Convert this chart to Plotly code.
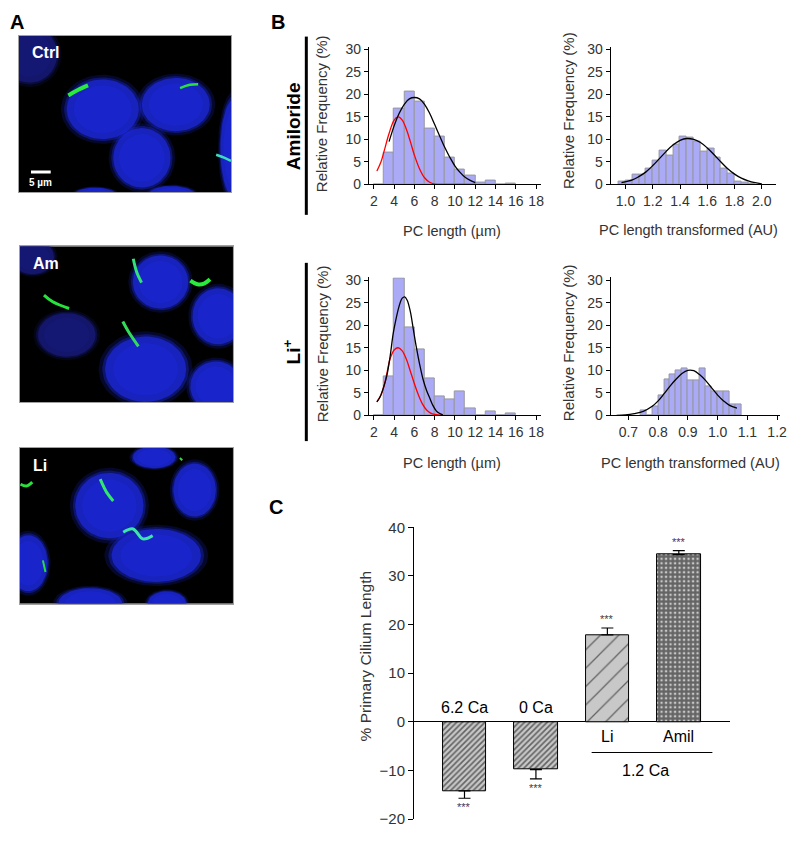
import numpy as np
import plotly.graph_objects as go

# ---------------- data ----------------
# panel B, PC length histograms (1 um bins, centre values)
len_bins = [2.5, 3.5, 4.5, 5.5, 6.5, 7.5, 8.5, 9.5, 10.5, 11.5, 12.5, 13.5, 14.5, 15.5]
amil_len_freq = [0, 7.0, 16.9, 20.6, 18.5, 12.5, 10.7, 5.9, 3.2, 1.9, 0.5, 0.9, 0, 0.3]
li_len_freq = [0, 8.6, 30.4, 19.5, 14.6, 8.3, 4.1, 3.6, 5.2, 1.6, 0, 0.9, 0, 0.5]

# fitted curves
amil_fit_x = [3.5, 4.0, 4.5, 5.0, 5.5, 6.0, 6.5, 7.0, 7.5, 8.0, 8.5, 9.0, 9.5, 10.0, 10.5, 11.0, 11.5, 12.0]
amil_fit_y = [9.5, 13.0, 15.8, 17.8, 19.0, 19.3, 19.0, 17.8, 15.8, 13.3, 10.7, 8.2, 6.0, 4.1, 2.7, 1.6, 0.9, 0.4]
ctrl_fit_x = [2.3, 2.7, 3.0, 3.5, 4.0, 4.4, 4.8, 5.2, 5.6, 6.0, 6.5, 7.0, 7.5, 8.0, 9.0, 10.0, 11.0, 12.0]
ctrl_fit_y = [3.0, 5.0, 7.3, 11.3, 14.3, 15.0, 14.3, 12.3, 9.5, 6.5, 3.5, 1.5, 0.5, 0.1, 0, 0, 0, 0]
li_fit_x = [2.3, 2.6, 3.0, 3.3, 3.6, 3.9, 4.2, 4.5, 4.8, 5.05, 5.3, 5.6, 5.9, 6.2, 6.5, 6.85, 7.2, 7.5, 7.8, 8.15, 8.5, 8.8]
li_fit_y = [3.0, 4.0, 6.5, 9.0, 13.0, 18.0, 21.5, 24.3, 26.0, 26.3, 25.5, 23.0, 19.0, 15.0, 11.5, 8.0, 5.5, 3.9, 2.3, 1.0, 0.4, 0.1]
ctrl2_fit_x = [2.3, 2.7, 3.0, 3.3, 3.6, 4.0, 4.4, 4.8, 5.2, 5.6, 6.0, 6.4, 6.8, 7.2, 7.6, 8.0, 8.5, 8.8]
ctrl2_fit_y = [3.0, 4.5, 6.5, 9.5, 12.5, 14.5, 15.0, 14.3, 12.5, 9.8, 7.0, 4.5, 2.5, 1.2, 0.5, 0.2, 0.05, 0]

# panel B, transformed length histograms
amil_tr_bins = [0.975, 1.025, 1.075, 1.125, 1.175, 1.225, 1.275, 1.325, 1.375, 1.425, 1.475,
                1.525, 1.575, 1.625, 1.675, 1.725, 1.775, 1.825, 1.875, 1.925]
amil_tr_freq = [0.6, 0.8, 2.3, 2.3, 3.5, 5.4, 7.5, 6.4, 8.9, 10.6, 10.5,
                9.5, 7.3, 8.0, 6.0, 3.5, 2.5, 0.7, 0.5, 0.2]
amil_tr_fit_x = [0.97, 1.05, 1.1, 1.15, 1.2, 1.25, 1.3, 1.35, 1.4, 1.45, 1.5, 1.55, 1.6, 1.65,
                 1.7, 1.75, 1.8, 1.85, 1.9, 1.95, 2.0]
amil_tr_fit_y = [0.4, 1.0, 1.8, 2.8, 4.2, 5.8, 7.4, 8.8, 9.8, 10.2, 10.0, 9.3, 8.1, 6.6,
                 5.0, 3.5, 2.3, 1.4, 0.8, 0.4, 0.15]
li_tr_bins = [0.75, 0.77, 0.79, 0.81, 0.83, 0.85, 0.87, 0.89, 0.91, 0.93, 0.95,
              0.97, 0.99, 1.01, 1.03, 1.05, 1.07]
li_tr_freq = [1.0, 0, 2.0, 4.4, 7.9, 9.1, 9.9, 10.4, 7.8, 7.8, 10.4,
              6.4, 5.3, 5.3, 5.2, 2.4, 2.4]
li_tr_fit_x = [0.66, 0.69, 0.72, 0.75, 0.78, 0.80, 0.82, 0.84, 0.86, 0.88, 0.90, 0.92, 0.94,
               0.96, 0.98, 1.00, 1.02, 1.04, 1.065]
li_tr_fit_y = [0, 0.1, 0.4, 0.9, 2.0, 3.2, 4.8, 6.5, 8.0, 9.3, 10.0, 9.9, 9.0,
               7.7, 6.1, 4.5, 3.2, 2.2, 1.6]

# panel C
groups = ["6.2 Ca", "0 Ca", "Li", "Amil"]
pc_change = [-14.2, -9.8, 17.9, 34.4]
pc_err = [1.5, 1.9, 1.4, 0.8]

# panel A, nuclei (cx, cy, rx, ry in image fractions) and cilia traces
BRIGHT = "rgb(30,42,232)"
DIM = "rgb(24,28,130)"
nuclei = {
    "Ctrl": [(0.05, 0.12, 0.13, 0.18, DIM), (0.395, 0.47, 0.17, 0.19, BRIGHT),
             (0.74, 0.44, 0.16, 0.17, BRIGHT), (0.58, 0.78, 0.135, 0.19, BRIGHT),
             (1.02, 0.72, 0.07, 0.32, BRIGHT), (0.36, 1.02, 0.10, 0.05, BRIGHT),
             (0.72, 1.02, 0.11, 0.06, BRIGHT)],
    "Am": [(0.06, 0.07, 0.10, 0.11, DIM), (0.66, 0.23, 0.13, 0.17, BRIGHT),
           (0.93, 0.45, 0.12, 0.18, BRIGHT), (0.22, 0.57, 0.135, 0.14, DIM),
           (0.59, 0.79, 0.19, 0.21, BRIGHT), (0.92, 0.90, 0.12, 0.16, BRIGHT)],
    "Li": [(0.63, 0.06, 0.10, 0.07, BRIGHT), (0.42, 0.37, 0.16, 0.21, BRIGHT),
           (0.82, 0.27, 0.10, 0.17, BRIGHT), (0.64, 0.69, 0.21, 0.17, BRIGHT),
           (0.04, 0.74, 0.09, 0.18, BRIGHT), (0.33, 1.00, 0.15, 0.10, BRIGHT),
           (0.69, 1.00, 0.09, 0.08, BRIGHT)],
}
cilia = {
    "Ctrl": [([0.233, 0.28, 0.326], [0.382, 0.346, 0.318], "rgb(40,235,60)", 4),
             ([0.76, 0.806, 0.845], [0.335, 0.314, 0.31], "rgb(40,225,60)", 2.5),
             ([0.93, 0.97, 1.0], [0.76, 0.78, 0.80], "rgb(60,220,190)", 2.5)],
    "Am": [([0.532, 0.548, 0.571], [0.081, 0.166, 0.234], "rgb(50,225,120)", 3),
           ([0.80, 0.833, 0.864, 0.892], [0.221, 0.244, 0.24, 0.212], "rgb(40,235,60)", 4),
           ([0.113, 0.154, 0.231], [0.314, 0.357, 0.40], "rgb(40,225,60)", 3),
           ([0.483, 0.509, 0.556], [0.484, 0.548, 0.643], "rgb(50,220,90)", 3)],
    "Li": [([0.377, 0.408, 0.438], [0.20, 0.287, 0.34], "rgb(50,230,110)", 3),
           ([0.485, 0.531, 0.577, 0.623], [0.541, 0.52, 0.584, 0.563], "rgb(60,230,170)", 3),
           ([0.003, 0.031, 0.058], [0.233, 0.244, 0.219], "rgb(40,225,60)", 3),
           ([0.751, 0.762], [0.064, 0.079], "rgb(40,225,60)", 2),
           ([0.108, 0.12], [0.722, 0.796], "rgb(40,220,60)", 2)],
}

# ---------------- layout helpers ----------------
# the page puts white space round the figure (8 px at the left/top and more
# below), so the figure is drawn a little smaller; positions are in picture pixels
W, H = 787, 827
OFF = 8
FONT = "Liberation Sans, Arial, sans-serif"
TXT = "#333333"


def px(x):
    return (x - OFF) / W


def py(y):
    return 1 - (y - OFF) / H


def clamp(v):
    return min(1.0, max(0.0, v))


def xdom(a, b):
    return [clamp(px(a)), clamp(px(b))]


def ydom(top, bottom):
    return [clamp(py(bottom)), clamp(py(top))]


def ax(k):
    s = "" if k == 1 else str(k)
    return "x" + s, "y" + s, "xaxis" + s, "yaxis" + s


def label(text, x, y, size, color=TXT, angle=0):
    return dict(text=text, x=px(x), y=py(y), xref="paper", yref="paper", xanchor="center",
                yanchor="middle", textangle=angle, showarrow=False,
                font=dict(family=FONT, size=size, color=color))


fig = go.Figure()
ann = []
shapes = []

# ---------------- panel A ----------------
img_boxes = {"Ctrl": (1, 19, 233, 27, 187), "Am": (2, 20, 235, 242, 401), "Li": (3, 20, 235, 448, 607)}
t = np.linspace(0, 2 * np.pi, 60)
for name, (k, x0, x1, y0, y1) in img_boxes.items():
    xa, ya, xk, yk = ax(k)
    shapes.append(dict(type="rect", xref=xa, yref=ya, x0=0, x1=1, y0=0, y1=1, layer="below",
                       fillcolor="black", line=dict(width=0)))
    for cx, cy, rx, ry, col in nuclei[name]:
        for scale, op in [(1.16, 0.18), (1.07, 0.35), (1.0, 0.65), (0.8, 0.35)]:
            fig.add_trace(go.Scatter(
                x=cx + rx * scale * np.cos(t), y=cy + ry * scale * np.sin(t),
                fill="toself", fillcolor=col, opacity=op, mode="lines",
                line=dict(width=0), hoverinfo="skip", showlegend=False, xaxis=xa, yaxis=ya))
    for cxs, cys, col, w in cilia[name]:
        fig.add_trace(go.Scatter(x=cxs, y=cys, mode="lines", line=dict(color=col, width=w, shape="spline"),
                                 hoverinfo="skip", showlegend=False, xaxis=xa, yaxis=ya))
    fig.layout[xk] = dict(domain=xdom(x0, x1), range=[0, 1], showticklabels=False,
                          ticks="", showgrid=False, zeroline=False, showline=True,
                          linecolor="#a0a0a0", mirror=True, anchor=ya)
    fig.layout[yk] = dict(domain=ydom(y0, y1), range=[1, 0], showticklabels=False, ticks="",
                          showgrid=False, zeroline=False, showline=True,
                          linecolor="#a0a0a0", mirror=True, anchor=xa)
    ann.append(dict(text="<b>%s</b>" % name, x=0.05, y=0.11, xref=xa, yref=ya,
                    xanchor="left", yanchor="middle", showarrow=False,
                    font=dict(family=FONT, size=16, color="white")))

# scale bar in Ctrl
shapes.append(dict(type="line", xref="x", yref="y", x0=0.057, x1=0.15, y0=0.87, y1=0.87,
                   line=dict(color="white", width=3)))
ann.append(dict(text="<b>5 µm</b>", x=0.104, y=0.94, xref="x", yref="y", showarrow=False,
                xanchor="center", yanchor="middle", font=dict(family=FONT, size=10, color="white")))

# ---------------- panel B ----------------
BAR_FILL = "rgb(170,170,246)"
BAR_EDGE = "rgb(150,150,160)"


def hist_axes(k, xpix, ypix, xr, dtick, fmt):
    xa, ya, xk, yk = ax(k)
    fig.layout[xk] = dict(domain=xdom(*xpix), range=xr, dtick=dtick, tick0=0, tickformat=fmt,
                          showline=True, linecolor="black", linewidth=1, ticks="outside",
                          ticklen=4, tickcolor="black", showgrid=False, zeroline=False,
                          tickfont=dict(family=FONT, size=14, color=TXT), anchor=ya)
    fig.layout[yk] = dict(domain=ydom(*ypix), range=[0, 30.6], tickvals=[0, 5, 10, 15, 20, 25, 30],
                          showline=True, linecolor="black", linewidth=1, ticks="outside",
                          ticklen=4, tickcolor="black", showgrid=False, zeroline=False,
                          tickfont=dict(family=FONT, size=14, color=TXT), anchor=xa)


def add_hist(k, xs, ys, width):
    xa, ya, _, _ = ax(k)
    fig.add_trace(go.Bar(x=xs, y=ys, width=width, marker=dict(color=BAR_FILL, line=dict(color=BAR_EDGE, width=1)),
                         showlegend=False, xaxis=xa, yaxis=ya))


def add_curve(k, xs, ys, col):
    xa, ya, _, _ = ax(k)
    fig.add_trace(go.Scatter(x=xs, y=ys, mode="lines", line=dict(color=col, width=1.3, shape="spline"),
                             showlegend=False, xaxis=xa, yaxis=ya))


hist_axes(4, (372, 546), (38.2, 179), [1.5, 18.5], 2, "d")
hist_axes(5, (616, 783), (38.2, 179), [0.89, 2.105], 0.2, ".1f")
hist_axes(6, (372, 546), (273.9, 414.7), [1.5, 18.5], 2, "d")
hist_axes(7, (616, 787), (273.9, 414.7), [0.64, 1.21], 0.1, ".1f")

add_hist(4, len_bins, amil_len_freq, 1.0)
add_curve(4, ctrl_fit_x, ctrl_fit_y, "red")
add_curve(4, amil_fit_x, amil_fit_y, "black")
add_hist(5, amil_tr_bins, amil_tr_freq, 0.05)
add_curve(5, amil_tr_fit_x, amil_tr_fit_y, "black")
add_hist(6, len_bins, li_len_freq, 1.0)
add_curve(6, ctrl2_fit_x, ctrl2_fit_y, "red")
add_curve(6, li_fit_x, li_fit_y, "black")
add_hist(7, li_tr_bins, li_tr_freq, 0.02)
add_curve(7, li_tr_fit_x, li_tr_fit_y, "black")

for x, y in [(325, 107), (573, 103), (325, 342), (573, 340)]:
    ann.append(label("Relative Frequency (%)", x, y, 15, angle=-90))
for txt, x, y in [("PC length (µm)", 456, 226), ("PC length transformed (AU)", 695, 225),
                  ("PC length (µm)", 456, 463), ("PC length transformed (AU)", 697, 463)]:
    ann.append(label(txt, x, y, 14.5))

ann.append(label("<b>Amiloride</b>", 296, 119, 19, color="black", angle=-90))
ann.append(label("<b>Li<sup>+</sup></b>", 295, 350, 19, color="black", angle=-90))
for top, bot in [(28, 210), (259, 441)]:
    shapes.append(dict(type="line", xref="paper", yref="paper", x0=px(309), x1=px(309),
                       y0=py(top), y1=py(bot), line=dict(color="black", width=3)))

# ---------------- panel C ----------------
fig.add_trace(go.Bar(
    x=[1, 2, 3, 4], y=pc_change, width=0.61,
    marker=dict(color="rgb(200,200,200)", line=dict(color="black", width=1),
                pattern=dict(shape=["/", "/", "/", "+"], size=[4, 4, 13, 4.5], solidity=[0.42, 0.42, 0.1, 0.75],
                             fgcolor="black", fillmode="overlay")),
    error_y=dict(type="data", symmetric=False,
                 array=[0 if v < 0 else e for v, e in zip(pc_change, pc_err)],
                 arrayminus=[e if v < 0 else 0 for v, e in zip(pc_change, pc_err)],
                 color="black", thickness=1.2, width=6),
    showlegend=False, xaxis="x8", yaxis="y8"))

fig.layout["xaxis8"] = dict(domain=xdom(417.7, 736), range=[0.294, 4.71], visible=False, anchor="y8")
fig.layout["yaxis8"] = dict(domain=ydom(529, 827), range=[-20, 40], dtick=10, showline=True, linecolor="black",
                            linewidth=1, ticks="outside", ticklen=5, tickcolor="black", showgrid=False,
                            zeroline=True, zerolinecolor="black", zerolinewidth=1.2,
                            tickfont=dict(family=FONT, size=15, color=TXT), anchor="x8")

for i, (v, e) in enumerate(zip(pc_change, pc_err)):
    ystar = v + e + 1.8 if v > 0 else v - e - 1.8
    ann.append(dict(text="***", x=i + 1, y=ystar, xref="x8", yref="y8", showarrow=False,
                    xanchor="center", yanchor="middle", font=dict(family=FONT, size=11, color="#4a3550")))
for i in range(4):
    ann.append(dict(text=groups[i], x=i + 1, y=2.9 if i < 2 else -3.1, xref="x8", yref="y8", showarrow=False,
                    xanchor="center", yanchor="middle", font=dict(family=FONT, size=16, color="black")))
shapes.append(dict(type="line", xref="x8", yref="y8", x0=2.78, x1=4.47, y0=-6.3, y1=-6.3,
                   line=dict(color="black", width=1.2)))
ann.append(dict(text="1.2 Ca", x=3.54, y=-9.9, xref="x8", yref="y8", showarrow=False,
                xanchor="center", yanchor="middle", font=dict(family=FONT, size=16, color="black")))
ann.append(label("% Primary Cilium Length", 369, 660, 15.5, angle=-90))

# panel letters
for letter, x, y in [("A", 17, 13), ("B", 280, 13), ("C", 278, 508)]:
    ann.append(label("<b>%s</b>" % letter, x, y, 20, color="black"))

fig.update_layout(width=W, height=H, margin=dict(l=0, r=0, t=0, b=0), paper_bgcolor="white",
                  plot_bgcolor="white", bargap=0, annotations=ann, shapes=shapes, showlegend=False)
fig.write_html("out.html")
